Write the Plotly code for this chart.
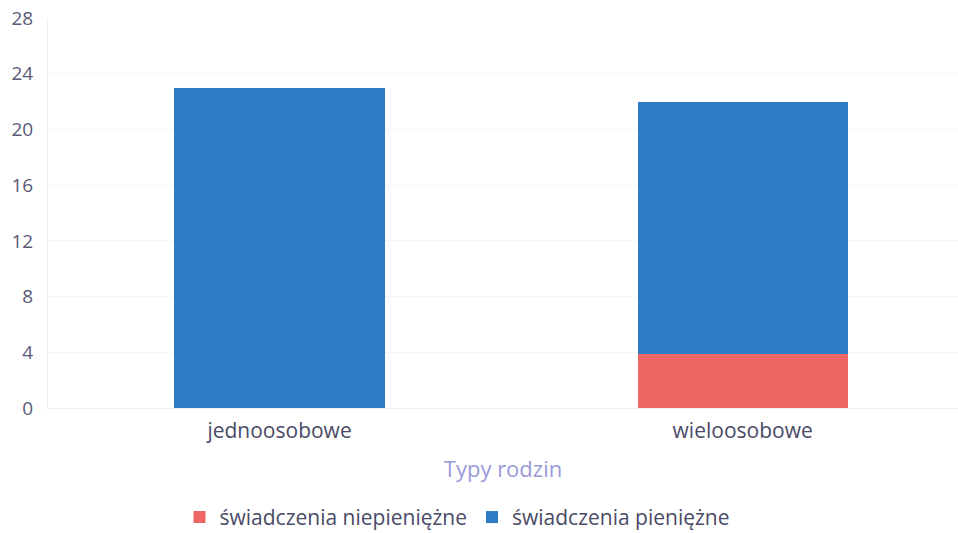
import plotly.graph_objects as go

categories = ["jednoosobowe", "wieloosobowe"]
niepieniezne = [0, 3.9]
pieniezne = [23, 18.1]
y_ticks = [0, 4, 8, 12, 16, 20, 24, 28]

fig = go.Figure()
fig.add_trace(go.Bar(x=categories, y=niepieniezne, name="świadczenia niepieniężne",
                     marker=dict(color="#ef6765", line=dict(width=0)), width=0.454))
fig.add_trace(go.Bar(x=categories, y=pieniezne, name="świadczenia pieniężne",
                     marker=dict(color="#2d7bc4", line=dict(width=0)), width=0.454))

fig.update_layout(
    barmode="stack",
    width=958, height=533,
    margin=dict(l=48, r=0, t=18, b=125, autoexpand=False),
    paper_bgcolor="white", plot_bgcolor="white",
    font=dict(family="Open Sans", size=19, color="#5a5a78"),
    showlegend=True,
    legend=dict(orientation="h", x=0.45, xanchor="center", y=-0.228, yanchor="top",
                font=dict(size=21, color="#4a4a66"), traceorder="normal",
                itemwidth=30),
    xaxis=dict(range=[-0.5, 1.465], showgrid=False, showline=True, automargin=False,
               linecolor="#eeeeee", ticks="", tickfont=dict(size=21, color="#4a4a66"),
               ticklabelstandoff=4,
               title=dict(text="Typy rodzin", font=dict(size=22, color="#9a9ad8"), standoff=18)),
    yaxis=dict(range=[0, 28], tickvals=y_ticks, showgrid=True, gridcolor="#f7f7f7",
               showline=True, linecolor="#eeeeee", zeroline=False, ticks="", automargin=False,
               tickfont=dict(size=19, color="#5a5a78"), ticklabelstandoff=10),
)

fig.write_html("out.html", config={"displayModeBar": False},
               post_script="document.body.style.margin='0';")
